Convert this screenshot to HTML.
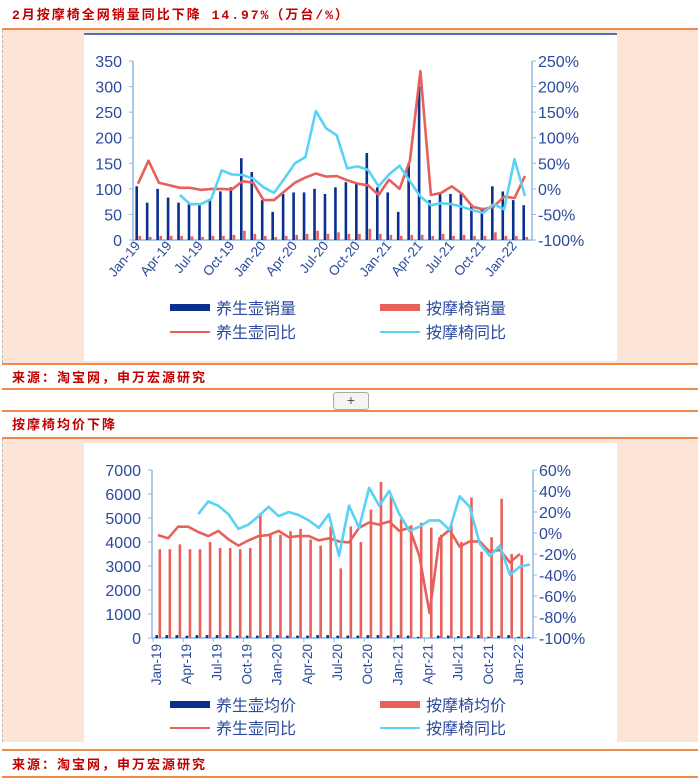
<!DOCTYPE html>
<html><head><meta charset="utf-8">
<style>
html,body{margin:0;padding:0;background:#fff;}
body{width:700px;height:782px;overflow:hidden;position:relative;font-family:"Liberation Sans","Noto Sans CJK SC",sans-serif;}
.t{position:absolute;left:12px;color:#c00000;font-weight:bold;font-size:13px;letter-spacing:2px;font-family:"Liberation Mono","Noto Sans CJK SC",monospace;}
.ln{position:absolute;left:2px;right:2px;height:0;border-top:2px solid #ee8a4a;}
.pink{position:absolute;left:2px;right:2px;background:#fce4d6;border-left:1px dashed #bbb;}
.white{position:absolute;background:#fff;}
</style></head><body>
<div class="t" style="top:4px">2月按摩椅全网销量同比下降 14.97%（万台/%）</div>
<div class="ln" style="top:28px"></div>
<div class="pink" style="top:30px;height:333px"></div>
<div class="white" style="left:84px;top:33px;width:533px;height:326px;border-top:2px solid #4a72b8"></div>
<div class="ln" style="top:363px"></div>
<div class="t" style="top:367px">来源：淘宝网，申万宏源研究</div>
<div class="ln" style="top:388px"></div>
<div style="position:absolute;left:333px;top:392px;width:34px;height:16px;border:1px solid #aaa;border-radius:3px;background:#f4f4f4;text-align:center;font-size:14px;line-height:15px;color:#555">+</div>
<div class="ln" style="top:410px"></div>
<div class="t" style="top:414px">按摩椅均价下降</div>
<div class="ln" style="top:437px"></div>
<div class="pink" style="top:439px;height:303px"></div>
<div class="white" style="left:84px;top:443px;width:533px;height:299px"></div>
<div class="ln" style="top:749px"></div>
<div class="t" style="top:754px">来源：淘宝网，申万宏源研究</div>
<div class="ln" style="top:776px"></div>
<svg id="svg" width="700" height="782" style="position:absolute;left:0;top:0" font-family="Liberation Sans, Noto Sans CJK SC, sans-serif"></svg>
<script>
// Chart 1 data
const months1 = ['Jan-19','Apr-19','Jul-19','Oct-19','Jan-20','Apr-20','Jul-20','Oct-20','Jan-21','Apr-21','Jul-21','Oct-21','Jan-22'];
const potSales = [105,73,100,83,73,70,70,80,95,103,160,133,78,55,90,93,93,100,90,103,113,113,170,103,93,55,150,300,78,90,90,90,70,63,105,95,78,68];
const chairSales = [8,6,8,8,8,7,6,8,8,10,18,12,8,6,8,10,12,18,12,15,12,12,22,12,10,8,10,10,8,12,8,10,8,8,15,8,8,6];
const potYoY = [10,55,12,7,2,2,-2,0,0,-1,15,12,-22,-22,-5,12,22,30,24,25,17,10,7,-12,18,0,55,230,-12,-8,5,-10,-35,-40,-35,-15,-18,25];
const chairYoY = [null,null,null,null,-12,-30,-30,-20,36,28,27,20,3,-8,20,50,62,152,118,105,40,44,37,5,28,45,15,-15,-32,-28,-30,-35,-42,-47,-30,-40,58,-14];
const leftTicks1 = [0,50,100,150,200,250,300,350];
const rightTicks1 = [-100,-50,0,50,100,150,200,250];
// Chart 2 data
const months2 = months1;
const potPrice = [120,120,120,100,120,120,120,120,100,100,100,120,120,100,100,100,120,120,100,100,100,120,120,100,120,100,50,0,100,100,80,80,120,50,100,120,50,50];
const chairPrice = [3700,3700,3900,3700,3700,4000,3750,3750,3700,3750,5200,4300,4300,4450,4550,4100,3850,4650,2900,4650,4000,5350,6500,5900,4950,4700,4800,4600,4300,4700,4000,5850,3600,4200,5800,3500,3450,null];
const potPriceYoY = [-2,-5,6,6,1,-3,2,-6,-12,-7,-3,-2,2,-4,-3,-3,-7,-5,-8,-9,5,10,8,11,2,5,-22,-76,-5,3,-13,-8,-8,-18,-16,-28,-20,null];
const chairPriceYoY = [null,null,null,null,18,30,26,18,4,8,16,25,16,20,17,12,5,18,-22,26,5,43,26,40,18,2,6,12,12,3,35,25,-10,-22,-12,-40,-32,-30];
const leftTicks2 = [0,1000,2000,3000,4000,5000,6000,7000];
const rightTicks2 = [-100,-80,-60,-40,-20,0,20,40,60];

const svg = document.getElementById('svg');
const NS='http://www.w3.org/2000/svg';
function mk(tag, attrs, parent){const e=document.createElementNS(NS,tag);for(const k in attrs)e.setAttribute(k,attrs[k]);(parent||svg).appendChild(e);return e;}
const BLUE='#0a2f8f', RED='#e8605a', CYAN='#5ad2f6', TXT='#2b4a9e', AX='#8fb9e3';

function chart(cfg){
  const g=mk('g',{});
  
  
  const n=cfg.n;
  const x=i=>cfg.x0+i*(cfg.x1-cfg.x0)/(n-1);
  const yl=v=>cfg.yb-(v-cfg.lmin)/(cfg.lmax-cfg.lmin)*(cfg.yb-cfg.yt);
  const yr=v=>cfg.yb-(v-cfg.rmin)/(cfg.rmax-cfg.rmin)*(cfg.yb-cfg.yt);
  mk('line',{x1:cfg.ax0,x2:cfg.ax0,y1:cfg.yt,y2:cfg.yb,stroke:AX,'stroke-width':1.5},g);
  mk('line',{x1:cfg.ax1,x2:cfg.ax1,y1:cfg.yt,y2:cfg.yb,stroke:AX,'stroke-width':1.5},g);
  mk('line',{x1:cfg.ax0,x2:cfg.ax1,y1:cfg.yb,y2:cfg.yb,stroke:AX,'stroke-width':1.5},g);
  cfg.lt.forEach(v=>{
    mk('line',{x1:cfg.ax0-4,x2:cfg.ax0,y1:yl(v),y2:yl(v),stroke:AX},g);
    const t=mk('text',{x:cfg.ax0-11,y:yl(v)+6,'text-anchor':'end','font-size':16,fill:TXT},g);t.textContent=v;
    
    
  });
  cfg.rt.forEach(v=>{
    mk('line',{x1:cfg.ax1,x2:cfg.ax1+4,y1:yr(v),y2:yr(v),stroke:AX},g);
    const t=mk('text',{x:cfg.ax1+6,y:yr(v)+6,'font-size':16,fill:TXT},g);t.textContent=v+'%';
    
    
  });
  const bw=cfg.bw;
  cfg.b1.forEach((v,i)=>{ if(v==null)return;
    const r=mk('rect',{x:x(i)-bw,y:yl(v),width:bw,height:cfg.yb-yl(v),fill:BLUE},g);
    
    
  });
  cfg.b2.forEach((v,i)=>{ if(v==null)return;
    const r=mk('rect',{x:x(i)+0.5,y:yl(v),width:bw,height:cfg.yb-yl(v),fill:RED},g);
    
    
  });
  function line(arr,color,nm){
    let d='';arr.forEach((v,i)=>{if(v==null)return;d+=(d?'L':'M')+x(i).toFixed(1)+','+yr(v).toFixed(1);});
    const p=mk('path',{d:d,fill:'none',stroke:color,'stroke-width':2.6,'stroke-linejoin':'round'},g);
    
    
  }
  line(cfg.l1,RED,'line-'+cfg.b1name+'-yoy');
  line(cfg.l2,CYAN,'line-'+cfg.b2name+'-yoy');
  cfg.months.forEach((m,k)=>{
    const xx=x(k*3)+3, yy=cfg.yb+6;
    mk('line',{x1:x(k*3)-5,x2:x(k*3)-5,y1:cfg.yb,y2:cfg.yb+4,stroke:AX},g);
    const t=mk('text',{x:xx,y:yy,'text-anchor':'end','font-size':13.5,fill:TXT,transform:`rotate(${cfg.rot} ${xx} ${yy})`},g);
    t.textContent=m;
    
    
  });
  cfg.legend.forEach((L,i)=>{
    const lx=i%2?380:170, ly=cfg.legY+Math.floor(i/2)*cfg.legDy;
    if(L.bar) mk('rect',{x:lx,y:ly-4,width:40,height:7,fill:L.c},g);
    else mk('line',{x1:lx,x2:lx+40,y1:ly,y2:ly,stroke:L.c,'stroke-width':2},g);
    const t=mk('text',{x:lx+46,y:ly+6,'font-size':16,fill:TXT},g);t.textContent=L.t;
    
    
  });
}
chart({name:'chart-sales',n:38,x0:138,x1:525,ax0:133,ax1:532,yt:61,yb:240,lmin:0,lmax:350,rmin:-100,rmax:250,lt:leftTicks1,rt:rightTicks1,bw:2.6,
  b1:potSales,b2:chairSales,l1:potYoY,l2:chairYoY,b1name:'pot-sales',b2name:'chair-sales',months:months1,rot:-50,
  legY:308,legDy:24,legend:[{t:'养生壶销量',c:BLUE,bar:1},{t:'按摩椅销量',c:RED,bar:1},{t:'养生壶同比',c:RED},{t:'按摩椅同比',c:CYAN}]});
chart({name:'chart-price',n:38,x0:158,x1:530,ax0:152,ax1:533,yt:470,yb:638,lmin:0,lmax:7000,rmin:-100,rmax:60,lt:leftTicks2,rt:rightTicks2,bw:2.6,
  b1:potPrice,b2:chairPrice,l1:potPriceYoY,l2:chairPriceYoY,b1name:'pot-price',b2name:'chair-price',months:months2,rot:-90,
  legY:705,legDy:23,legend:[{t:'养生壶均价',c:BLUE,bar:1},{t:'按摩椅均价',c:RED,bar:1},{t:'养生壶同比',c:RED},{t:'按摩椅同比',c:CYAN}]});
</script>
</body></html>
